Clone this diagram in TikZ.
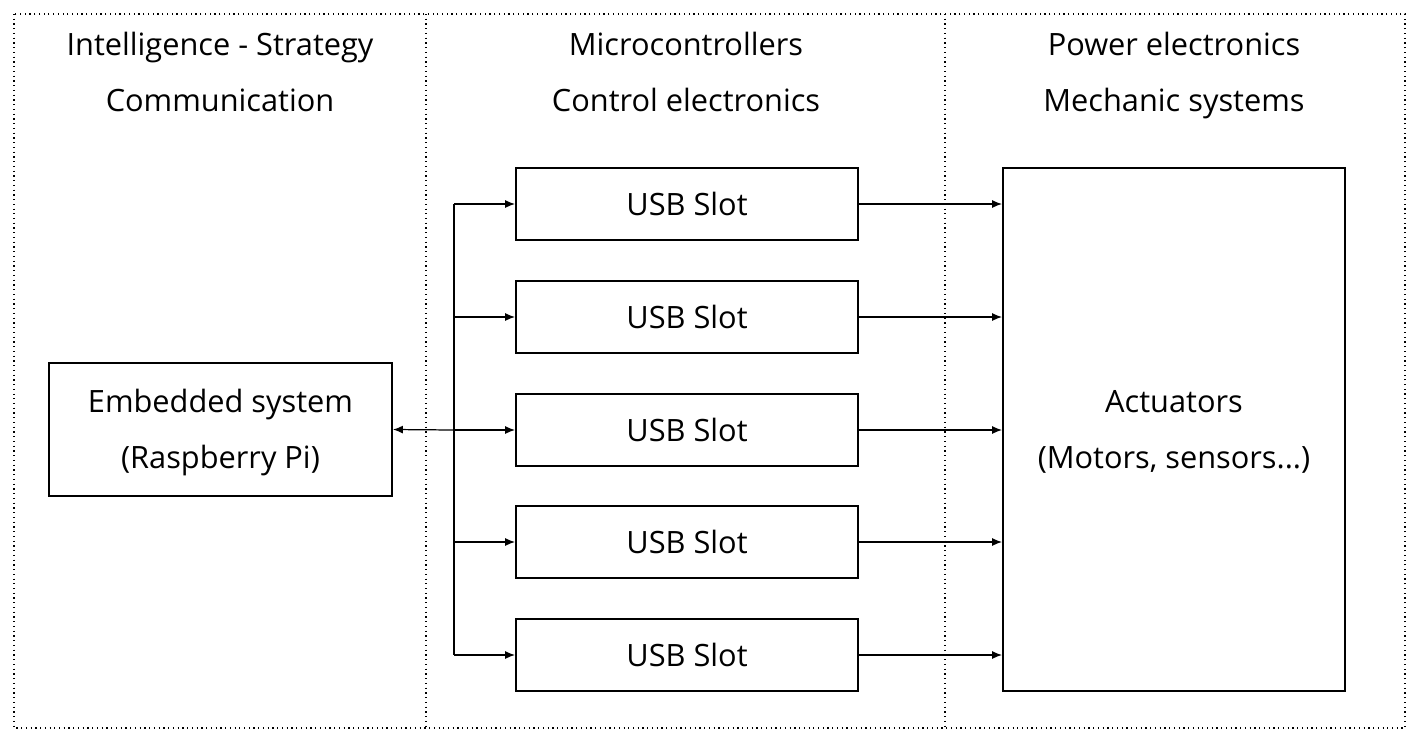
\documentclass[tikz,border=0pt]{standalone}
\usepackage{fontspec}
\setmainfont{Open Sans}
\usepackage{tikz}
\usetikzlibrary{arrows.meta,positioning}
\tikzstyle{block}=[draw, line width=1.1pt, inner sep=0pt, align=center, font=\fontsize{17.5}{32}\selectfont]
\tikzstyle{slot}=[block, minimum width=6.84cm, minimum height=1.44cm]
\tikzstyle{title}=[align=center, font=\fontsize{17.5}{32}\selectfont]
\tikzstyle{link}=[-{Latex[length=0.2cm, width=0.16cm]}, line width=0.7pt]

\begin{document}
\begin{tikzpicture}[x=0.02cm, y=-0.02cm]
\useasboundingbox (0,0) rectangle (1420,748);

% frame
\draw[dotted, line width=0.7pt] (14,14) rectangle (1405,728);
\draw[dotted, line width=0.7pt] (426,14) -- (426,728);
\draw[dotted, line width=0.7pt] (945,14) -- (945,728);

% titles
\node[title] (t1) at (220,72) {\strut Intelligence - Strategy\\\strut Communication};
\node[title] (t2) at (686,72) {\strut Microcontrollers\\\strut Control electronics};
\node[title] (t3) at (1174,72) {\strut Power electronics\\\strut Mechanic systems};

% blocks
\node[block, minimum width=6.86cm, minimum height=2.66cm] (pi) at (220.5,429.5) {\strut Embedded system\\\strut (Raspberry Pi)};
\node[block, minimum width=6.84cm, minimum height=10.46cm] (act) at (1174,429.5) {\strut Actuators\\\strut (Motors, sensors...)};
\foreach \i/\y in {1/204, 2/317, 3/430, 4/542, 5/655}
    \node[slot] (usb\i) at (687,\y) {USB Slot};

% bus
\coordinate (bus) at (454,430);
\draw[link] (bus) -- (pi.east);
\draw[line width=0.7pt] (bus |- usb1) -- (bus |- usb5);
\foreach \i in {1,...,5} {
    \draw[link] (bus |- usb\i) -- (usb\i.west);
    \draw[link] (usb\i.east) -- (usb\i.east -| act.west);
}

\end{tikzpicture}
\end{document}
